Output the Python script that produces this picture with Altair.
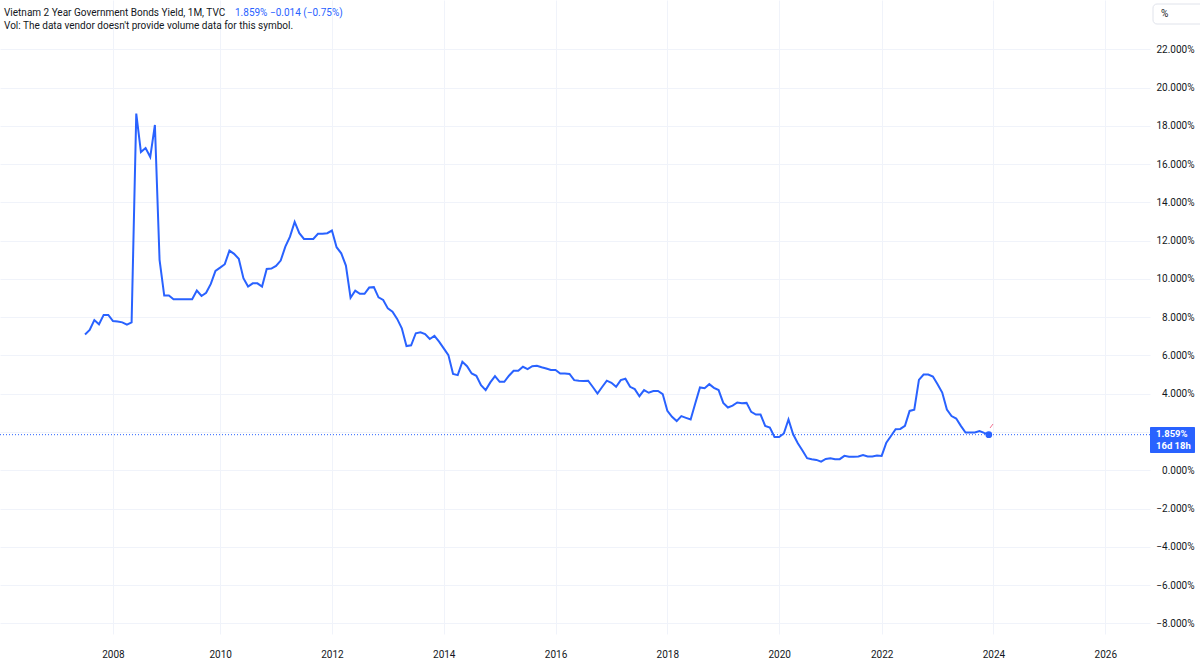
import altair as alt
import pandas as pd

# ---- data (monthly bars, TradingView bar index; 0 = Jan 2008 bar) ----
first_bar = -6
yields = [
    7.10, 7.33, 7.85, 7.63, 8.12, 8.12,
    7.80, 7.77, 7.73, 7.61, 7.73, 18.64, 16.63, 16.84, 16.37, 18.05, 11.00, 9.13,
    9.13, 8.94, 8.94, 8.94, 8.94, 8.94, 9.39, 9.11, 9.28, 9.74, 10.42, 10.59,
    10.77, 11.48, 11.31, 11.05, 10.04, 9.60, 9.77, 9.77, 9.60, 10.52, 10.54, 10.68,
    10.96, 11.69, 12.21, 12.98, 12.39, 12.09, 12.09, 12.09, 12.36, 12.36, 12.39, 12.53,
    11.66, 11.34, 10.70, 9.02, 9.39, 9.22, 9.22, 9.55, 9.57, 9.04, 8.90, 8.46,
    8.29, 7.91, 7.42, 6.49, 6.53, 7.16, 7.21, 7.12, 6.86, 7.02, 6.72, 6.37,
    6.02, 5.03, 4.97, 5.67, 5.44, 5.06, 4.94, 4.45, 4.19, 4.59, 4.92, 4.62,
    4.62, 4.94, 5.20, 5.20, 5.41, 5.29, 5.44, 5.46, 5.38, 5.32, 5.24, 5.24,
    5.06, 5.06, 5.03, 4.71, 4.68, 4.66, 4.68, 4.35, 4.01, 4.35, 4.68, 4.57,
    4.36, 4.71, 4.78, 4.36, 4.24, 3.87, 4.19, 4.05, 4.14, 4.14, 3.98, 3.11,
    2.79, 2.57, 2.83, 2.74, 2.65, 3.50, 4.33, 4.29, 4.50, 4.31, 4.19, 3.52,
    3.28, 3.38, 3.54, 3.50, 3.52, 3.05, 2.91, 2.91, 2.32, 2.23, 1.74, 1.74,
    1.92, 2.65, 1.88, 1.41, 1.03, 0.63, 0.58, 0.54, 0.45, 0.59, 0.63,
    0.58, 0.58, 0.75, 0.70, 0.70, 0.72, 0.80, 0.72, 0.72, 0.77, 0.75,
    1.44, 1.79, 2.14, 2.16, 2.32, 3.10, 3.17, 4.72, 5.00, 5.00, 4.90, 4.49,
    4.06, 3.17, 2.83, 2.70, 2.32, 1.97, 1.97, 1.97, 2.05, 1.95, 1.859,
]
year_bars = [0, 23, 47, 71, 95, 119, 143, 165, 189, 213]
year_labels = ["2008", "2010", "2012", "2014", "2016", "2018", "2020", "2022", "2024", "2026"]
y_ticks = [-8, -6, -4, -2, 0, 2, 4, 6, 8, 10, 12, 14, 16, 18, 20, 22]
hidden_tick = 2  # covered by the last-price label in the reference
last_value = 1.859
title_text = "Vietnam 2 Year Government Bonds Yield, 1M, TVC"
quote_text = "1.859%  \u22120.014 (\u22120.75%)"
vol_text = "Vol: The data vendor doesn't provide volume data for this symbol."
countdown = "16d 18h"

BLUE = "#2962FF"
TEXT = "#131722"
GRID = "#F0F3FA"
FONT = "Roboto"

W, H = 1150, 634

df = pd.DataFrame({"bar": [first_bar + i for i in range(len(yields))], "yield": yields})
last_df = df.tail(1)
one = pd.DataFrame({"a": [0]})

xexpr = ""
for b, lab in zip(year_bars, year_labels):
    xexpr += f"datum.value == {b} ? '{lab}' : "
xexpr += "''"

xscale = alt.Scale(domain=[-24.25, 222.6], nice=False, zero=False)
yscale = alt.Scale(domain=[-8.56, 24.58], nice=False, zero=False)

x_axis = alt.Axis(values=year_bars, labelExpr=xexpr, title=None, grid=True,
                  gridColor=GRID, gridWidth=1, domain=False, ticks=False,
                  labelPadding=15, labelFontSize=10, labelFont=FONT,
                  labelColor=TEXT, labelAngle=0, labelOverlap=False,
                  labelFlush=False)
y_axis = alt.Axis(orient="right", values=y_ticks,
                  labelExpr=f"datum.value == {hidden_tick} ? '' : format(datum.value, '.3f') + '%'",
                  title=None, grid=True, gridColor=GRID, gridWidth=1,
                  domain=False, ticks=False, labelAlign="right",
                  labelBaseline="middle", labelPadding=44, labelFontSize=10,
                  labelFont=FONT, labelColor=TEXT, labelOverlap=False,
                  labelFlush=False)

X = alt.X("bar:Q", scale=xscale, axis=x_axis)
Y = alt.Y("yield:Q", scale=yscale, axis=y_axis)

line = alt.Chart(df).mark_line(color=BLUE, strokeWidth=2).encode(x=X, y=Y)

price_line = alt.Chart(last_df).mark_rule(color=BLUE, strokeWidth=1, strokeDash=[1, 2]).encode(y=Y)

last_dot = alt.Chart(last_df).mark_circle(color=BLUE, size=45, opacity=1).encode(x=X, y=Y)

tick_mark = alt.Chart(one).mark_rule(color="#F2728F", strokeWidth=1).encode(
    x=alt.value(990), x2=alt.value(993), y=alt.value(428), y2=alt.value(424)
)

def txt(text, x, y, color=TEXT, size=10, weight="normal", align="left"):
    return alt.Chart(one).mark_text(
        text=text, color=color, fontSize=size, font=FONT, fontWeight=weight,
        align=align, baseline="middle"
    ).encode(x=alt.value(x), y=alt.value(y))

header1 = txt(title_text, 4, 13)
header2 = txt(quote_text, 235, 13, color=BLUE)
header3 = txt(vol_text, 4, 26)

label_box = alt.Chart(one).mark_rect(color=BLUE, cornerRadius=1).encode(
    x=alt.value(1150), x2=alt.value(1195), y=alt.value(427), y2=alt.value(453)
)
label1 = txt("1.859%", 1156, 433.5, color="white", weight="bold", size=9.5)
label2 = txt(countdown, 1156, 446, color="white", weight="bold", size=9.5)

pct_box = alt.Chart(one).mark_rect(fill="white", stroke="#E0E3EB", strokeWidth=1, cornerRadius=4).encode(
    x=alt.value(1153), x2=alt.value(1206), y=alt.value(4), y2=alt.value(24)
)
pct_text = txt("%", 1161, 14, size=10)

chart = alt.layer(
    line, price_line, last_dot, tick_mark, header1, header2, header3,
    label_box, label1, label2, pct_box, pct_text
).properties(
    width=W, height=H,
    autosize=alt.AutoSizeParams(type="none"),
    padding={"left": 0, "top": 0, "right": 50, "bottom": 28},
    background="white",
).configure_view(stroke=None)

chart.save("out.html", embed_options={"renderer": "svg", "actions": False})
